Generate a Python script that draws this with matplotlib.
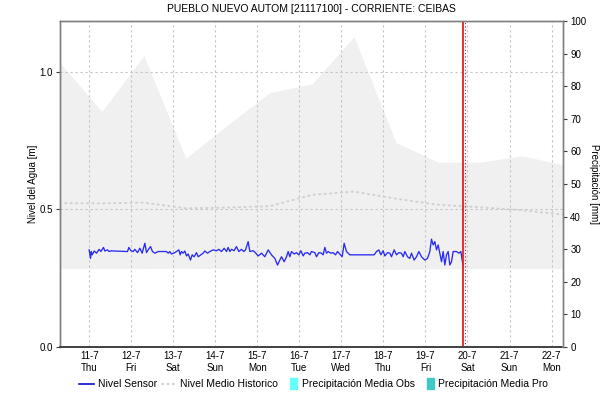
import matplotlib

matplotlib.use("Agg")
import matplotlib.pyplot as plt
import matplotlib.patches as mpatches
from matplotlib.lines import Line2D
from matplotlib.legend_handler import HandlerPatch

plt.rcParams["font.family"] = ["Liberation Sans", "DejaVu Sans"]

# --- data (x in days from 11-7 00:00) ---
day_labels = ["11-7\nThu", "12-7\nFri", "13-7\nSat", "14-7\nSun", "15-7\nMon", "16-7\nTue",
              "17-7\nWed", "18-7\nThu", "19-7\nFri", "20-7\nSat", "21-7\nSun", "22-7\nMon"]

band_days = [-0.70, 0.30, 1.30, 2.30, 3.30, 4.30, 5.30, 6.30, 7.30, 8.30, 9.30, 10.30, 11.28]
band_upper = [1.034, 0.856, 1.059, 0.686, 0.808, 0.925, 0.956, 1.128, 0.743, 0.672, 0.672, 0.695, 0.662]
band_lower = [0.285, 0.285, 0.285, 0.286, 0.285, 0.284, 0.283, 0.283, 0.282, 0.284, 0.285, 0.285, 0.285]
hist_level = [0.523, 0.522, 0.525, 0.504, 0.507, 0.512, 0.553, 0.565, 0.539, 0.517, 0.508, 0.497, 0.481]

sensor_days = [
    0.000, 0.033, 0.050, 0.072, 0.120, 0.175, 0.239, 0.278, 0.342, 0.373, 0.437, 0.476, 0.532, 0.572,
    0.913, 0.944, 0.992, 1.047, 1.087, 1.151, 1.206, 1.261, 1.325, 1.365, 1.404, 1.460, 1.507, 1.563,
    1.642, 1.840, 1.880, 1.920, 1.959, 2.039, 2.078, 2.134, 2.165, 2.197, 2.237, 2.276, 2.316, 2.356,
    2.411, 2.451, 2.498, 2.554, 2.594, 2.657, 2.712, 2.752, 2.816, 2.871, 2.950, 3.030, 3.085, 3.149,
    3.212, 3.268, 3.307, 3.347, 3.387, 3.450, 3.505, 3.561, 3.624, 3.680, 3.720, 3.783, 3.823, 3.902,
    3.941, 4.021, 4.100, 4.179, 4.259, 4.338, 4.417, 4.481, 4.536, 4.576, 4.639, 4.695, 4.734, 4.774,
    4.814, 4.877, 4.933, 4.988, 5.036, 5.091, 5.131, 5.194, 5.250, 5.289, 5.369, 5.408, 5.464, 5.527,
    5.567, 5.607, 5.646, 5.686, 5.749, 5.805, 5.860, 5.908, 5.963, 6.019, 6.066, 6.122, 6.201, 6.780,
    6.836, 6.891, 6.939, 6.994, 7.034, 7.097, 7.153, 7.192, 7.256, 7.311, 7.367, 7.430, 7.470, 7.510,
    7.573, 7.628, 7.668, 7.731, 7.787, 7.843, 7.906, 7.985, 8.049, 8.104, 8.144, 8.184, 8.223, 8.263,
    8.302, 8.342, 8.382, 8.421, 8.461, 8.501, 8.540, 8.580, 8.620, 8.659, 8.739, 8.794, 8.842, 8.873,
    8.897,
]
sensor_level = [
    0.353, 0.322, 0.347, 0.335, 0.349, 0.341, 0.355, 0.347, 0.362, 0.349, 0.353, 0.347, 0.350, 0.349,
    0.347, 0.362, 0.350, 0.347, 0.355, 0.343, 0.359, 0.341, 0.377, 0.343, 0.353, 0.365, 0.347, 0.341,
    0.347, 0.347, 0.341, 0.347, 0.338, 0.343, 0.347, 0.353, 0.335, 0.347, 0.341, 0.349, 0.331, 0.338,
    0.316, 0.335, 0.328, 0.343, 0.328, 0.335, 0.341, 0.349, 0.341, 0.347, 0.353, 0.350, 0.355, 0.347,
    0.359, 0.347, 0.362, 0.347, 0.355, 0.350, 0.365, 0.347, 0.355, 0.347, 0.353, 0.383, 0.347, 0.350,
    0.345, 0.331, 0.341, 0.328, 0.353, 0.335, 0.322, 0.298, 0.316, 0.328, 0.310, 0.328, 0.347, 0.328,
    0.347, 0.338, 0.343, 0.335, 0.350, 0.331, 0.341, 0.343, 0.335, 0.347, 0.343, 0.328, 0.343, 0.341,
    0.335, 0.362, 0.341, 0.347, 0.341, 0.343, 0.335, 0.347, 0.338, 0.328, 0.377, 0.347, 0.335, 0.335,
    0.347, 0.353, 0.335, 0.350, 0.331, 0.343, 0.341, 0.328, 0.353, 0.335, 0.343, 0.341, 0.328, 0.347,
    0.328, 0.322, 0.341, 0.316, 0.328, 0.347, 0.328, 0.316, 0.322, 0.347, 0.392, 0.371, 0.383, 0.353,
    0.371, 0.341, 0.310, 0.347, 0.298, 0.335, 0.347, 0.298, 0.310, 0.347, 0.347, 0.341, 0.347, 0.316,
    0.295,
]

now_day = 8.90
title = "PUEBLO NUEVO AUTOM [21117100] - CORRIENTE: CEIBAS"

# --- figure ---
fig = plt.figure(figsize=(6.15, 4.01), dpi=100)
ax = fig.add_axes([0.0971, 0.1347, 0.8189, 0.8129])
ax2 = ax.twinx()

spine_col = "#808080"
grid_col = "#c4c4c4"
hist_col = "#d0d0d0"
hist_ls = (0, (0.6, 2.2))

ax.fill_between(band_days, band_lower, band_upper, color="#f0f0f0", lw=0, zorder=0.5)
ax.plot(band_days, hist_level, color=hist_col, lw=1.4, ls=hist_ls,
        dash_capstyle="round", zorder=1.8)
ax.plot(sensor_days, sensor_level, color="#2b2bf0", lw=0.95, zorder=3)

ax.axvline(now_day, color="#e61e1e", lw=1.3, zorder=4)
ax.axvline(now_day + 0.03, color="#803030", lw=0.8, ls=(0, (1, 2)), zorder=4)

ax.set_xlim(-0.70, 11.28)
ax.set_ylim(0, 1.185)
ax.set_xticks(range(len(day_labels)))
ax.set_xticklabels(day_labels, fontsize=7)
ax.set_yticks([0.0, 0.5, 1.0])
ax.set_yticklabels(["0.0", "0.5", "1.0"], fontsize=7)
ax.tick_params(axis="x", length=0, pad=3)
ax.tick_params(axis="y", length=3, width=0.8, color="#404040", pad=2)
ax.grid(True, color=grid_col, lw=0.8, ls=(0, (2, 2.5)))
ax.set_ylabel("Nivel del Agua [m]", fontsize=7, labelpad=1)

ax2.set_ylim(0, 100)
ax2.set_yticks(range(0, 101, 10))
ax2.tick_params(axis="y", labelsize=7, length=3, width=0.8, color="#404040", pad=2)
ax2.set_ylabel("Precipitación [mm]", fontsize=7, rotation=270, labelpad=9)

for a in (ax, ax2):
    for side in ("left", "right", "top"):
        a.spines[side].set_color(spine_col)
        a.spines[side].set_linewidth(1.0)
    a.spines["bottom"].set_color("#404040")
    a.spines["bottom"].set_linestyle((0, (1, 1)))
    a.spines["bottom"].set_linewidth(1.2)

fig.text(0.5065, 0.978, title, ha="center", va="center", fontsize=7.5)


def narrow_patch(legend, orig_handle, xdescent, ydescent, width, height, fontsize):
    return mpatches.Rectangle((width - 5.5, -ydescent - 1.0), 5.0, height + 2.0)


handles = [
    Line2D([], [], color="#0a0ad0", lw=1.2),
    Line2D([], [], color=hist_col, lw=1.4, ls=hist_ls, dash_capstyle="round"),
    mpatches.Patch(color="#66ffff"),
    mpatches.Patch(color="#40c8c8"),
]
labels = ["Nivel Sensor", "Nivel Medio Historico", "Precipitación Media Obs", "Precipitación Media Pro"]
fig.legend(handles, labels, loc="center", bbox_to_anchor=(0.51, 0.042), ncol=4, frameon=False,
           fontsize=7.5, handlelength=1.4, handletextpad=0.35, columnspacing=0.5,
           handler_map={mpatches.Patch: HandlerPatch(patch_func=narrow_patch)})

fig.savefig("out.png", dpi=100)
